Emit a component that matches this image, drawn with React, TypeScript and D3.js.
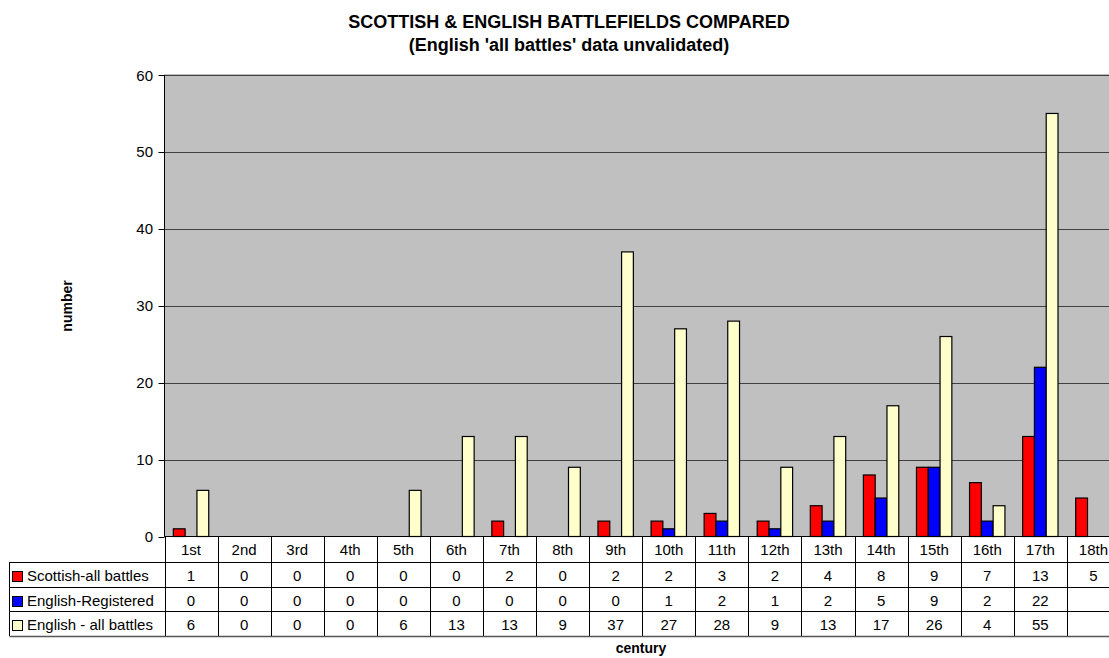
import React from "react";
import * as d3 from "d3";

const categories = ["1st","2nd","3rd","4th","5th","6th","7th","8th","9th","10th","11th","12th","13th","14th","15th","16th","17th","18th"];
const seriesNames = ["Scottish-all battles","English-Registered","English - all battles"];
const scottish: (number|null)[] = [1,0,0,0,0,0,2,0,2,2,3,2,4,8,9,7,13,5];
const englishReg: (number|null)[] = [0,0,0,0,0,0,0,0,0,1,2,1,2,5,9,2,22,null];
const englishAll: (number|null)[] = [6,0,0,0,6,13,13,9,37,27,28,9,13,17,26,4,55,null];
const seriesColors = ["#FF0000","#0000FF","#FFFFCC"];
const yTicks = [0,10,20,30,40,50,60];

const W = 1109, H = 658;
const plotLeft = 164.5, plotTop = 75, plotBottom = 536.5;
const catW = 53.08;
const plotRight = plotLeft + catW * categories.length;
const tableLeft = 9.5;
const rowTops = [536.5, 562, 587, 611, 636];
const font = "Arial, 'Liberation Sans', sans-serif";

export default function App() {
  const series = [scottish, englishReg, englishAll];
  const x = d3.scaleBand<string>().domain(categories).range([plotLeft, plotRight]).padding(0);
  const y = d3.scaleLinear().domain([0, 60]).range([plotBottom, plotTop]);
  const bw = x.bandwidth();
  const barW = bw / 4.5;
  const x1 = d3.scaleBand<number>().domain([0,1,2]).range([0.75*barW, 3.75*barW]).padding(0);

  return (
    <svg width={W} height={H} style={{position:"absolute", left:0, top:0, background:"#fff"}} fontFamily={font}>
      <text x={569} y={28} textAnchor="middle" fontSize={18} fontWeight="bold">SCOTTISH &amp; ENGLISH BATTLEFIELDS COMPARED</text>
      <text x={569} y={51} textAnchor="middle" fontSize={18} fontWeight="bold">(English 'all battles' data unvalidated)</text>
      <rect x={plotLeft} y={plotTop} width={plotRight-plotLeft} height={plotBottom-plotTop} fill="#C0C0C0" stroke="#808080" strokeWidth={1}/>
      {yTicks.filter(t=>t>0).map(t => (
        <line key={"g"+t} x1={plotLeft} x2={plotRight} y1={Math.round(y(t))+0.5} y2={Math.round(y(t))+0.5} stroke="#404040" strokeWidth={1}/>
      ))}
      {series.map((s, si) => s.map((v, ci) => {
        if (v === null || v === 0) return null;
        const bx = (x(categories[ci]) as number) + (x1(si) as number);
        return <rect key={si+"-"+ci} x={bx} y={y(v)} width={x1.bandwidth()} height={plotBottom - y(v)} fill={seriesColors[si]} stroke="#000" strokeWidth={1.2}/>;
      }))}
      <line x1={plotLeft} x2={plotLeft} y1={plotTop} y2={plotBottom} stroke="#000"/>
      {yTicks.map(t => (
        <g key={"t"+t}>
          <line x1={plotLeft-6} x2={plotLeft} y1={Math.round(y(t))+0.5} y2={Math.round(y(t))+0.5} stroke="#000"/>
          <text x={153} y={y(t)+5.5} textAnchor="end" fontSize={15}>{t}</text>
        </g>
      ))}
      {/* table */}
      <line x1={plotLeft} x2={plotRight} y1={plotBottom} y2={plotBottom} stroke="#000"/>
      {[1,2,3,4].map(r => (
        <line key={"r"+r} x1={tableLeft} x2={plotRight} y1={rowTops[r]+0.5} y2={rowTops[r]+0.5} stroke={r===4?"#555":"#000"} strokeWidth={r===4?1.5:1}/>
      ))}
      <line x1={tableLeft} x2={tableLeft} y1={rowTops[1]} y2={rowTops[4]} stroke="#000"/>
      {categories.map((c, ci) => {
        const cx = x(c) as number;
        return (
          <g key={"c"+c}>
            <line x1={Math.round(cx)+0.5} x2={Math.round(cx)+0.5} y1={plotBottom} y2={rowTops[4]} stroke="#000"/>
            <text x={cx + bw/2} y={rowTops[0]+18.5} textAnchor="middle" fontSize={15}>{c}</text>
            {series.map((s, si) => s[ci] === null ? null : (
              <text key={si} x={cx + bw/2} y={rowTops[si+1]+19} textAnchor="middle" fontSize={15}>{s[ci]}</text>
            ))}
          </g>
        );
      })}
      {seriesNames.map((n, si) => (
        <g key={n}>
          <rect x={12.5} y={rowTops[si+1]+9.5} width={10} height={10} fill={seriesColors[si]} stroke="#000"/>
          <text x={27} y={rowTops[si+1]+19} fontSize={15}>{n}</text>
        </g>
      ))}
      <text transform={`translate(72,306) rotate(-90)`} textAnchor="middle" fontSize={14} fontWeight="bold">number</text>
      <text x={641} y={653} textAnchor="middle" fontSize={14} fontWeight="bold">century</text>
    </svg>
  );
}
